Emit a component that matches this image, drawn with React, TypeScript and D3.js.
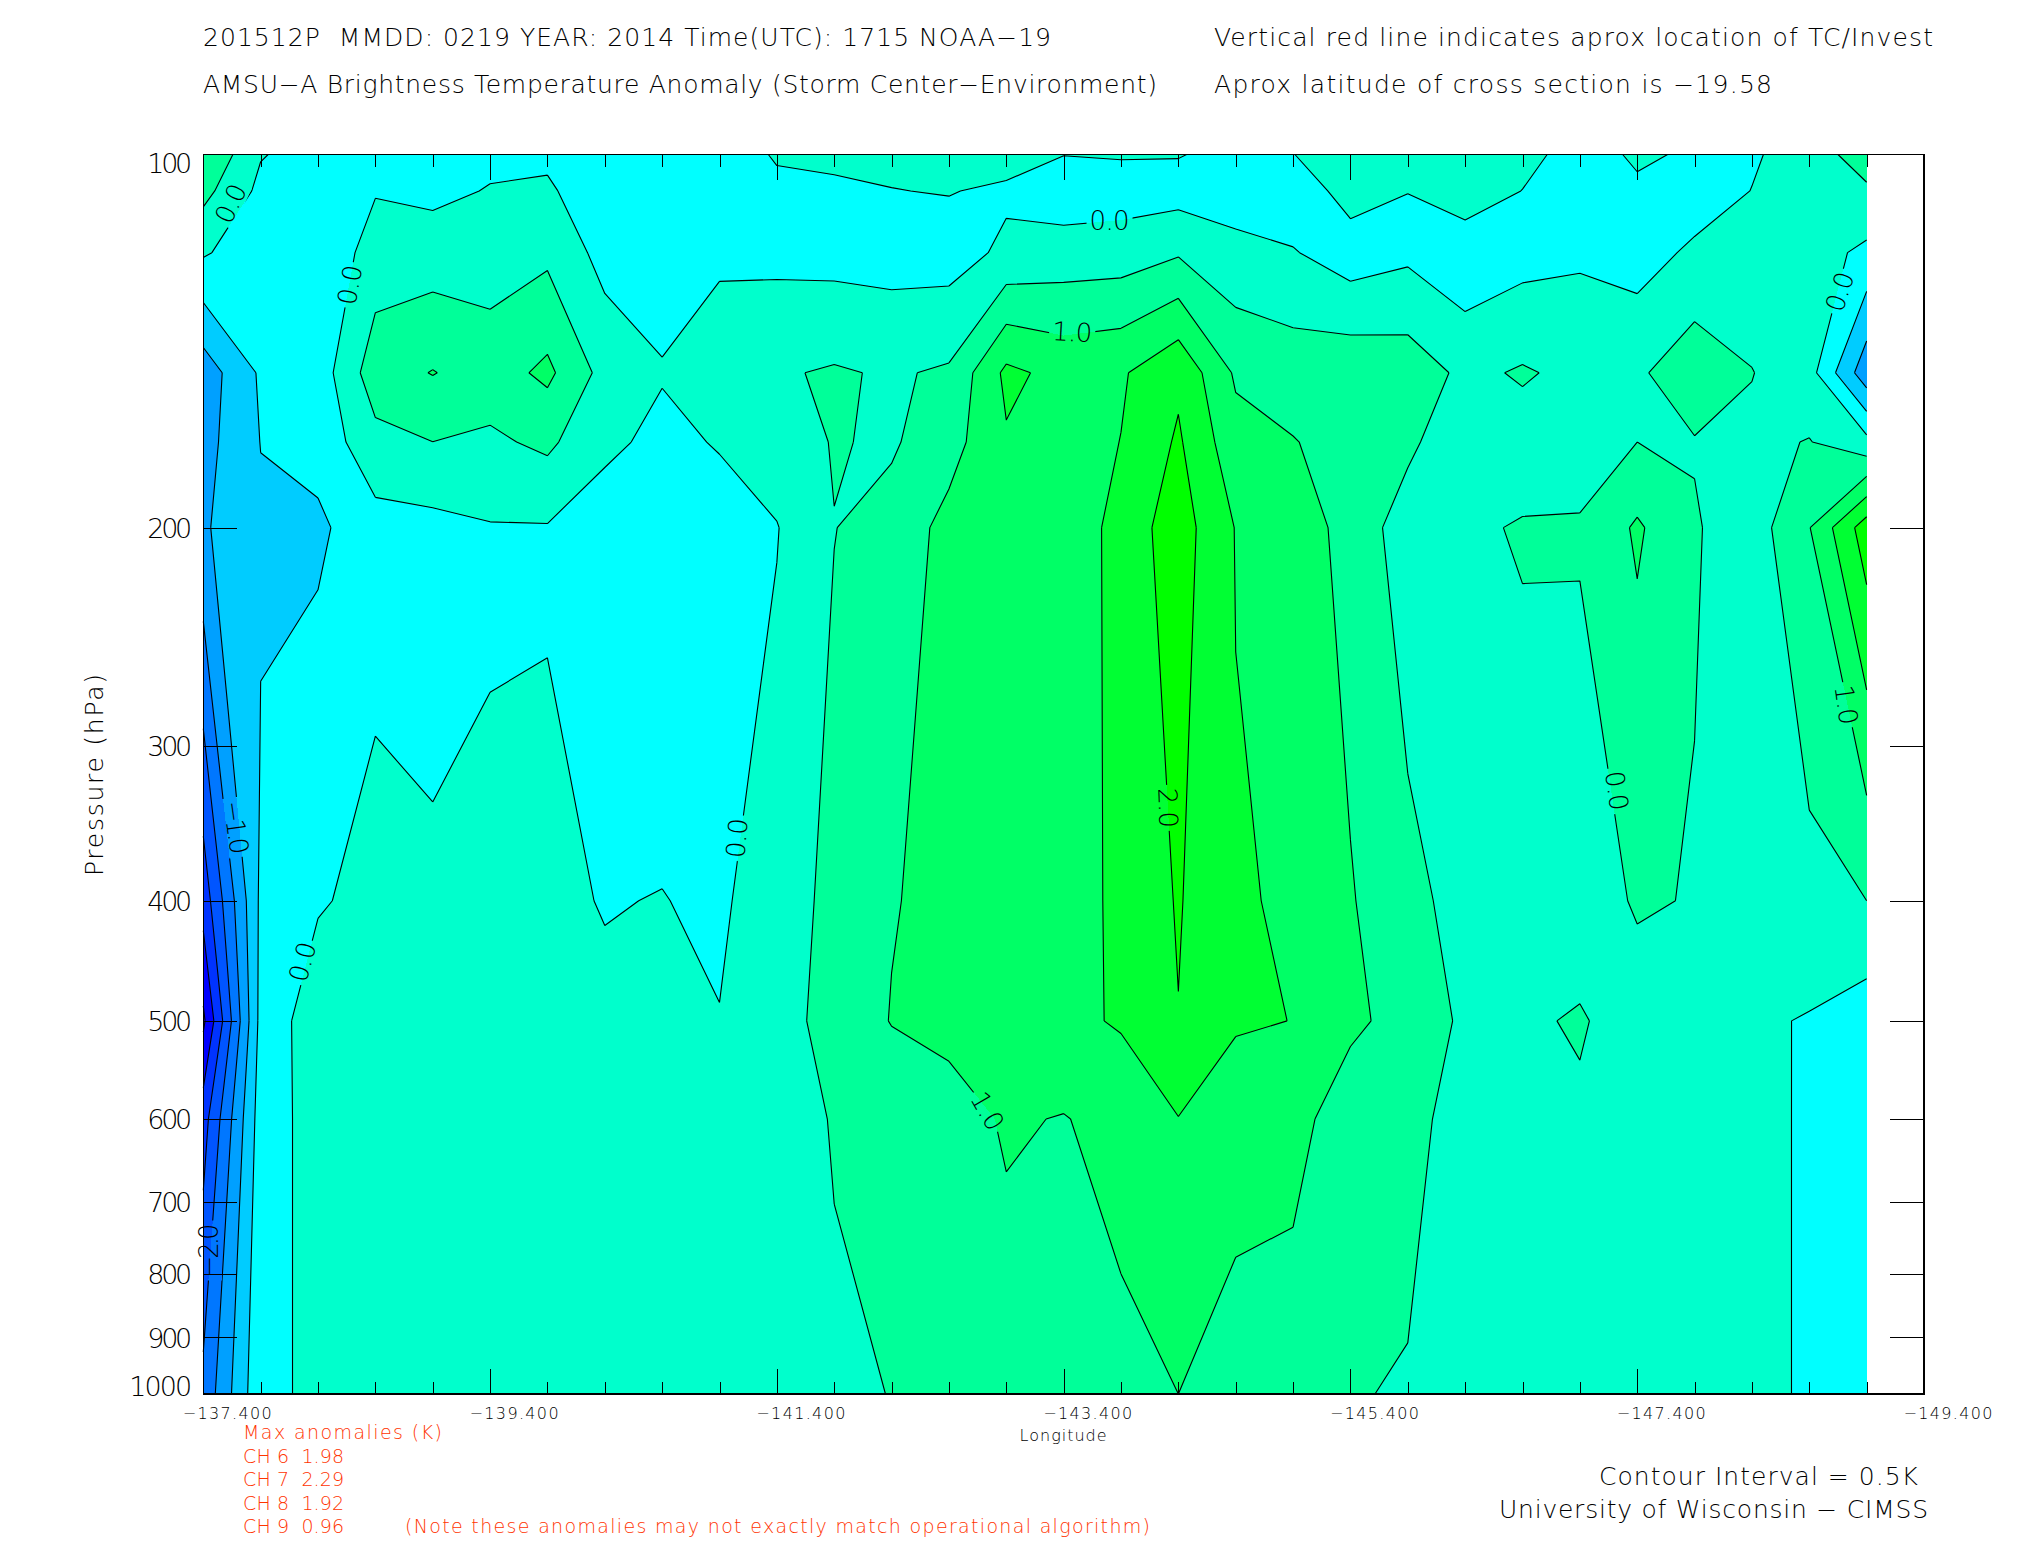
import React, { useRef, useEffect } from "react";
import * as d3 from "d3";

// Pressure levels of the cross section (hPa), top to bottom
const pressureLevels = [100, 107, 120, 150, 170.6, 200, 400, 500, 600, 1000];

// Brightness temperature anomaly (K), one list per level, 30 longitudes from -137.4 every 0.4 deg
const anomaly100 = [1.0, 0.03, -0.2, -0.18, -0.33, -0.11, -0.104, -0.42, -0.33, -0.2, 0.035, 0.1, 0.1, 0.2, 0.2, 0.01, 0.038, 0.025, -0.15, -0.01, 0.3, 0.25, 0.4, 0.2, -0.265, 0.09, -0.08, -0.065, 0.26, 0.74];
const anomaly107 = [0.655, -0.12, -0.3, -0.03, -0.115, 0.027, 0.08, -0.36, -0.28, -0.2, -0.08, -0.08, -0.01, 0.02, -0.08, -0.277, -0.224, -0.196, -0.225, -0.33, 0.216, 0.005, 0.335, -0.01, -0.2, -0.1, -0.27, 0.01, 0.25, 0.425];
const anomaly120 = [0.053, -0.3, -0.4, 0.22, 0.246, 0.26, 0.394, -0.17, -0.2, -0.063, -0.13, -0.17, -0.2, -0.217, 0.1, 0.22, 0.25, 0.448, 0.14, 0.034, -0.265, -0.105, -0.376, -0.185, -0.078, -0.22, 0.096, 0.18, 0.22, -0.11];
const anomaly150 = [-1.28, -0.43, -0.28, 0.78, 1.02, 0.77, 1.11, 0.33, 0.03, 0.2, 0.452, 0.55, 0.448, 0.564, 1.61, 1.35, 1.44, 1.9, 0.93, 0.78, 0.85, 0.78, 0.39, 0.55, 0.378, 0.425, 0.8, 0.515, 0.19, -1.32];
const anomaly171 = [-1.184, -0.49, -0.33, 0.347, 0.498, 0.413, 0.601, 0.089, -0.104, 0.03, 0.241, 0.53, 0.44, 0.806, 1.449, 1.221, 1.51, 2.067, 1.175, 1.021, 0.825, 0.6, 0.15, 0.3, 0.26, 0.5, 0.47, 0.397, 0.52, 0.15];
const anomaly200 = [-1.064, -0.57, -0.59, -0.19, -0.15, -0.03, -0.03, -0.21, -0.27, -0.18, -0.02, 0.49, 0.68, 1.16, 1.25, 1.06, 1.725, 2.235, 1.48, 1.32, 0.795, 0.268, 0.44, 0.53, 0.55, 1.07, 0.54, 0.25, 0.98, 2.27];
const anomaly400 = [-2.8, -0.4, -0.05, 0.15, 0.054, 0.038, 0.056, -0.013, 0.009, -0.055, 0.195, 0.664, 0.97, 1.145, 1.24, 1.3, 1.593, 2.04, 1.54, 1.45, 1.04, 0.62, 0.35, 0.33, 0.2, 0.56, 0.47, 0.26, 0.346, 0.5];
const anomaly500 = [-3.6, -0.34, 0.29, 0.26, 0.12, 0.06, 0.084, 0.05, 0.105, 0.01, 0.318, 0.668, 1.02, 1.14, 1.24, 1.38, 1.55, 1.987, 1.56, 1.493, 1.12, 0.787, 0.42, 0.425, 0.55, 0.25, 0.3, 0.067, -0.03, -0.27];
const anomaly600 = [-2.72, -0.25, 0.2, 0.22, 0.2, 0.2, 0.2, 0.2, 0.2, 0.2, 0.28, 0.53, 0.65, 0.8, 1.05, 0.978, 1.16, 1.487, 1.185, 1.21, 0.66, 0.675, 0.268, 0.3, 0.425, 0.3, 0.28, 0.2, -0.09, -0.2];
const anomaly1000 = [-1.87, -0.1, 0.08, 0.15, 0.2, 0.22, 0.24, 0.26, 0.28, 0.3, 0.35, 0.433, 0.508, 0.58, 0.79, 0.78, 0.876, 1.0, 0.817, 0.676, 0.53, 0.46, 0.35, 0.3, 0.28, 0.25, 0.22, 0.16, -0.072, -0.15];

const anomalyRows = [anomaly100, anomaly107, anomaly120, anomaly150, anomaly171, anomaly200, anomaly400, anomaly500, anomaly600, anomaly1000];

// Contour levels and the fill above each one
const contourLevels = [-3.5, -3, -2.5, -2, -1.5, -1, -0.5, 0, 0.5, 1, 1.5, 2];
const bandColors = ["#0000ff", "#0033ff", "#0055ff", "#0077ff", "#00a0ff", "#00ccff", "#00ffff", "#00ffcc", "#00ff99", "#00ff66", "#00ff33", "#00ff00"];
const lowestBandColor = "#2200ff";

const lonTicks = [-137.4, -139.4, -141.4, -143.4, -145.4, -147.4, -149.4];
const pressureTicks = [100, 200, 300, 400, 500, 600, 700, 800, 900, 1000];

// Labels written on the contours: text, longitude, pressure, rotation
const contourLabels: [string, number, number, number][] = [
  ["0.0", -137.59, 109.5, -65],
  ["0.0", -138.42, 127.4, -80],
  ["0.0", -143.72, 113, 0],
  ["1.0", -143.46, 139, 3],
  ["2.0", -144.13, 336.6, 88],
  ["0.0", -141.12, 356, -85],
  ["0.0", -138.09, 448, -75],
  ["\u22121.0", -137.63, 349, 82],
  ["\u22122.0", -137.44, 766, -90],
  ["1.0", -142.87, 591, 60],
  ["0.0", -147.26, 326, 82],
  ["0.0", -148.81, 129, -72],
  ["1.0", -148.86, 278, 82],
];

const titleLines: [string, number, number, number][] = [
  ["201512P  MMDD: 0219 YEAR: 2014 Time(UTC): 1715 NOAA\u221219", 203, 46, 848],
  ["AMSU\u2212A Brightness Temperature Anomaly (Storm Center\u2212Environment)", 203, 93, 954],
  ["Vertical red line indicates aprox location of TC/Invest", 1214, 46, 719],
  ["Aprox latitude of cross section is \u221219.58", 1214, 93, 558],
  ["Contour Interval = 0.5K", 1599, 1485, 319],
  ["University of Wisconsin \u2212 CIMSS", 1499, 1518, 429],
];

const noteLines: [string, number, number, number][] = [
  ["Max anomalies (K)", 243, 1439, 199],
  ["CH 6  1.98", 243, 1463, 101],
  ["CH 7  2.29", 243, 1486, 101],
  ["CH 8  1.92", 243, 1510, 101],
  ["CH 9  0.96", 243, 1533, 101],
  ["(Note these anomalies may not exactly match operational algorithm)", 405, 1533, 745],
];

const FONT = "'DejaVu Sans', sans-serif";

export default function App() {
  const svgRef = useRef<SVGSVGElement>(null);

  useEffect(() => {
    if (!svgRef.current) return;
    const svg = d3.select(svgRef.current);
    svg.selectAll("*").remove();

    const left = 203.3;
    const right = 1924;
    const top = 154.5;
    const bottom = 1394;

    const xScale = d3.scaleLinear().domain([-137.4, -149.4]).range([left, right]);
    const yScale = d3.scaleLog().domain([100, 1000]).range([top, bottom]);

    const nCols = anomalyRows[0].length;
    const nRows = anomalyRows.length;
    const colX = d3.scaleLinear().domain([0, nCols - 1]).range([xScale(-137.4), xScale(-137.4 - 0.4 * (nCols - 1))]);
    const rowY = d3.scaleLinear().domain(d3.range(nRows)).range(pressureLevels.map((p) => yScale(p)));

    const toX = (u: number) => colX(Math.max(0, Math.min(nCols - 1, u - 0.5)));
    const toY = (v: number) => rowY(Math.max(0, Math.min(nRows - 1, v - 0.5)));

    const contours = d3.contours().size([nCols, nRows]).thresholds(contourLevels)(anomalyRows.flat());

    // Mask cuts the contour lines where the labels sit
    const mask = svg.append("defs").append("mask").attr("id", "labelGaps").attr("maskUnits", "userSpaceOnUse")
      .attr("x", 0).attr("y", 0).attr("width", 2025).attr("height", 1550);
    mask.append("rect").attr("width", 2025).attr("height", 1550).attr("fill", "white");

    // Filled bands
    const fills = svg.append("g").attr("shape-rendering", "crispEdges");
    fills.append("rect")
      .attr("x", colX(0)).attr("y", top)
      .attr("width", colX(nCols - 1) - colX(0)).attr("height", bottom - top)
      .attr("fill", lowestBandColor);

    const ringPath = (ring: number[][]) =>
      ring.map((p, i) => `${i ? "L" : "M"}${toX(p[0]).toFixed(2)},${toY(p[1]).toFixed(2)}`).join("") + "Z";

    contours.forEach((c, i) => {
      fills.append("path")
        .attr("fill", bandColors[i])
        .attr("fill-rule", "evenodd")
        .attr("d", c.coordinates.map((poly) => poly.map(ringPath).join("")).join(""));
    });

    // Contour lines, leaving out the runs along the edge of the grid
    const linePath = (ring: number[][]) => {
      let d = "";
      for (let i = 1; i < ring.length; i++) {
        const [u0, v0] = ring[i - 1];
        const [u1, v1] = ring[i];
        const onEdge =
          (u0 <= 0.5 && u1 <= 0.5) ||
          (u0 >= nCols - 0.5 && u1 >= nCols - 0.5) ||
          (v0 <= 0.5 && v1 <= 0.5) ||
          (v0 >= nRows - 0.5 && v1 >= nRows - 0.5);
        if (onEdge) continue;
        d += `M${toX(u0).toFixed(2)},${toY(v0).toFixed(2)}L${toX(u1).toFixed(2)},${toY(v1).toFixed(2)}`;
      }
      return d;
    };

    svg.append("g")
      .attr("mask", "url(#labelGaps)")
      .attr("fill", "none")
      .attr("stroke", "#000")
      .attr("stroke-width", 1.1)
      .selectAll("path")
      .data(contours)
      .join("path")
      .attr("d", (c) => c.coordinates.map((poly) => poly.map(linePath).join("")).join(""));

    // Contour labels
    contourLabels.forEach(([text, lon, p, angle]) => {
      const w = text.length > 3 ? 54 : 40;
      const tr = `translate(${xScale(lon)},${yScale(p)}) rotate(${angle})`;
      mask.append("rect")
        .attr("x", -w / 2 - 3).attr("y", -13).attr("width", w + 6).attr("height", 26)
        .attr("transform", tr).attr("fill", "black");
      svg.append("text")
        .attr("transform", tr)
        .attr("text-anchor", "middle")
        .attr("dy", "0.36em")
        .attr("textLength", w)
        .attr("font-family", FONT)
        .attr("font-weight", 200)
        .attr("font-size", 26)
        .attr("fill", "#000")
        .text(text);
    });

    // Frame
    svg.append("rect")
      .attr("x", left).attr("y", top)
      .attr("width", right - left).attr("height", bottom - top)
      .attr("fill", "none").attr("stroke", "#000").attr("stroke-width", 1.2)
      .attr("shape-rendering", "crispEdges");

    // X axis ticks, bottom and top, inward
    const minorLons = d3.range(0, 31).filter((i) => i % 5 !== 0).map((i) => -137.4 - 0.4 * i);
    const drawX = (axis: any, y: number, values: number[], size: number, labels: boolean) => {
      const g = svg.append("g").attr("transform", `translate(0,${y})`)
        .call(axis(xScale).tickValues(values).tickSize(size).tickFormat(labels ? (d: number) => `\u2212${Math.abs(d).toFixed(3)}` : () => ""));
      g.select(".domain").remove();
      g.selectAll("line").attr("stroke", "#000").attr("shape-rendering", "crispEdges");
      return g;
    };
    drawX(d3.axisBottom, bottom, minorLons, -12, false);
    drawX(d3.axisTop, top, minorLons, -12, false);
    drawX(d3.axisTop, top, lonTicks, -25, false);
    const xLabels = drawX(d3.axisBottom, bottom, lonTicks, -25, true);
    xLabels.selectAll("text")
      .attr("y", 14).attr("dy", "0.71em").attr("x", -21)
      .attr("text-anchor", "start")
      .attr("textLength", 89)
      .attr("font-family", FONT).attr("font-weight", 200).attr("font-size", 16).attr("fill", "#000");

    // Y axis ticks, left and right, inward; the end labels stay inside the frame height
    const inner = pressureTicks.slice(1, -1);
    const yLeft = svg.append("g").attr("transform", `translate(${left},0)`)
      .call(d3.axisLeft(yScale).tickValues(pressureTicks).tickSize(0).tickPadding(11).tickFormat((d: any) => String(d)));
    yLeft.select(".domain").remove();
    yLeft.selectAll("text")
      .attr("dy", (d: any) => (d === 100 ? "0.67em" : d === 1000 ? "0.06em" : "0.36em"))
      .attr("textLength", (d: any) => (d === 1000 ? 63 : 45))
      .attr("font-family", FONT).attr("font-weight", 200).attr("font-size", 27).attr("fill", "#000");
    const yLeftTicks = svg.append("g").attr("transform", `translate(${left},0)`)
      .call(d3.axisLeft(yScale).tickValues(inner).tickSize(-34).tickFormat(() => ""));
    yLeftTicks.select(".domain").remove();
    const yRightTicks = svg.append("g").attr("transform", `translate(${right},0)`)
      .call(d3.axisRight(yScale).tickValues(inner).tickSize(-34).tickFormat(() => ""));
    yRightTicks.select(".domain").remove();
    svg.selectAll<SVGLineElement, unknown>("g.tick line").attr("stroke", "#000").attr("shape-rendering", "crispEdges");

    // Axis titles
    svg.append("text")
      .attr("x", 1019.6).attr("y", 1441)
      .attr("textLength", 87)
      .attr("font-family", FONT).attr("font-weight", 200).attr("font-size", 16).attr("fill", "#000")
      .text("Longitude");
    svg.append("text")
      .attr("transform", "translate(103,876) rotate(-90)")
      .attr("textLength", 202)
      .attr("font-family", FONT).attr("font-weight", 200).attr("font-size", 25).attr("fill", "#000")
      .text("Pressure (hPa)");

    // Titles and notes
    titleLines.forEach(([text, x, y, w]) => {
      svg.append("text")
        .attr("x", x).attr("y", y).attr("textLength", w)
        .style("white-space", "pre")
        .attr("font-family", FONT).attr("font-weight", 200).attr("font-size", 25).attr("fill", "#000")
        .text(text);
    });
    noteLines.forEach(([text, x, y, w]) => {
      svg.append("text")
        .attr("x", x).attr("y", y).attr("textLength", w)
        .style("white-space", "pre")
        .attr("font-family", FONT).attr("font-weight", 200).attr("font-size", 19).attr("fill", "#ff3300")
        .text(text);
    });
  }, []);

  return (
    <svg
      ref={svgRef}
      width={2025}
      height={1550}
      style={{ position: "absolute", left: 0, top: 0, display: "block", background: "#fff" }}
    />
  );
}
